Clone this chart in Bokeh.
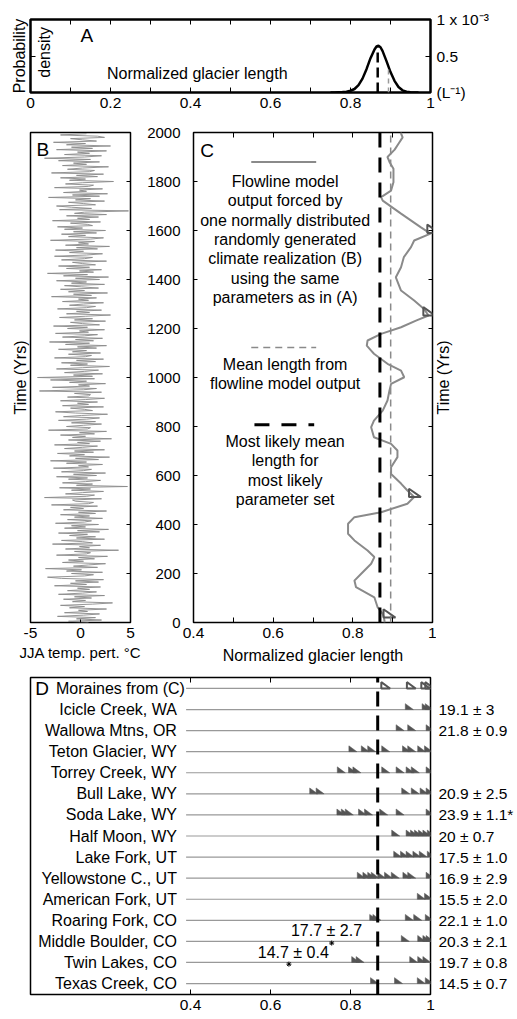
import math
import numpy as np
from bokeh.plotting import figure
from bokeh.layouts import column, row
from bokeh.models import Range1d, FixedTicker, LinearAxis
from bokeh.core.properties import value
from bokeh.embed import file_html
from bokeh.resources import INLINE

FONT = "Liberation Sans"

# ---------------- Panel A data ----------------
pdf_length = [0.75, 0.76, 0.77, 0.78, 0.79, 0.80, 0.81, 0.82, 0.83, 0.84, 0.85, 0.86, 0.865,
              0.87, 0.875, 0.88, 0.89, 0.90, 0.91, 0.92, 0.93, 0.94, 0.95, 0.96, 0.97]
pdf_density = [0.0, 0.0, 0.003, 0.006, 0.012, 0.024, 0.048, 0.10, 0.19, 0.32, 0.47, 0.59, 0.63,
               0.64, 0.62, 0.57, 0.43, 0.28, 0.16, 0.075, 0.03, 0.011, 0.004, 0.001, 0.0]
most_likely_length = 0.868
mean_model_length = 0.895

a_ticks = [0, 0.2, 0.4, 0.6, 0.8, 1]
a_tick_labels = ["0", "0.2", "0.4", "0.6", "0.8", "1"]
a_minor_ticks = [0.1, 0.3, 0.5, 0.7, 0.9]
a_right_ticks = [0, 0.5, 1]
a_right_labels = ["(L\u207b\u00b9)", "0.5", "1  x 10\u207b\u00b3"]

# ---------------- Panel B data (JJA temperature perturbation, 5-yr steps) ----------------
temp_pert = [
    0.8, -1.2, 2.1, -0.4, 1.5, -2.3, 0.3, 1.9, -1.6, 0.7, -0.2, 2.6, -1.1, 0.4, -2.0, 1.2, 3.2, -0.8, 0.5, -1.7,
    1.1, -0.6, 2.4, -2.2, 0.2, 1.6, -1.3, 0.9, -0.3, 2.0, -2.6, 0.6, -1.0, 1.8, -0.5, 2.3, -1.9, -3.3, 0.4, 1.3,
    -0.9, 2.2, -1.4, 0.1, -3.5, 1.7, -0.7, 0.8, 2.5, -1.8, 0.3, -1.2, 1.4, -0.2, 2.7, -2.4, 0.6, 1.0, -0.6, 3.8,
    -1.5, 0.9, -0.1, 2.0, -2.8, 1.2, 0.2, -1.9, 2.4, -0.4, 1.5, -1.1, 0.7, -2.2, 1.9, -0.3, 2.8, -1.6, 0.5, -0.9,
    1.8, -2.5, 0.4, 1.1, -1.3, 2.2, -0.6, 0.9, -2.0, 1.5, -0.2, 2.6, -1.7, 0.3, -1.0, 1.7, -2.9, 0.8, 1.3, -0.5,
    -0.8, 2.1, -3.6, 0.6, 1.4, -1.5, 0.2, 2.3, -0.9, 1.0, -2.1, 4.7, -0.4, 1.2, -1.8, 0.5, 2.0, -1.2, 0.7, -2.4,
    1.6, -0.7, 2.5, -1.9, 0.3, 1.1, -2.7, 0.8, -0.2, 2.2, -1.4, 0.6, -3.0, 1.8, -0.5, 2.9, -1.1, 0.4, -2.3, 1.3,
    -0.6, 2.4, -1.6, 0.2, 1.7, -2.6, 0.9, -0.3, 2.0, -1.2, 3.1, -0.8, 0.5, -2.0, 1.4, -0.1, 2.6, -3.2, 0.7, 1.0,
    -1.4, 0.3, 2.1, -0.9, 1.5, -2.2, 0.6, 1.9, -1.7, 0.1, 2.7, -0.5, -2.5, 1.2, 0.4, -1.0, 2.3, -1.8, 0.8, -0.3,
    1.7, -2.0, 0.5, 2.4, -1.3, 0.8, 1.0, -0.6, 2.1, -4.1, 0.3, 1.6, -2.8, 0.9, -0.2, 2.5, -1.1, 0.6, -3.0, 1.4,
    -4.3, 1.2, -0.7, 2.2, -1.6, 0.4, 1.8, -2.4, 0.2, 2.9, -1.0, 0.7, -1.9, 1.5, -0.4, 2.3, -2.6, 0.5, 1.1, -1.2,
    2.0, -0.8, 0.6, -2.2, 1.6, -0.3, 2.6, -1.5, 0.9, -3.1, 1.3, -0.5, 2.2, -1.8, 0.4, 1.7, -2.5, 0.8, -0.1, 2.4,
    -1.3, 0.7, -2.7, 1.9, 0.2, -1.0, 2.5, -0.6, 1.2, -2.1, 0.5, 3.0, -1.4, 0.9, -0.4, 2.1, -2.3, 0.6, 1.5, -1.1,
    0.3, 2.3, -1.8, 0.8, -0.2, 1.6, -2.9, 1.1, -0.7, 2.7, -1.2, 0.4, -2.0, 1.8, 0.1, -1.6, 2.4, -0.9, 0.6, -2.4,
    1.9, -0.5, 2.8, -1.7, 0.7, -3.3, 1.3, -0.1, 2.1, -1.4, 0.9, -2.2, 1.5, 0.2, -0.8, 2.6, -1.9, 0.4, 1.2, -2.6,
    0.6, 2.2, -1.1, 0.3, -2.5, 1.7, -0.4, 2.9, -1.5, 0.8, -0.2, 1.4, -3.0, 1.0, 2.3, -1.2, 0.5, -1.9, 1.6, -0.7,
    2.5, -1.6, 0.2, -2.3, 1.2, 0.7, -1.0, 2.0, -2.8, 0.9, -0.3, 1.8, -1.4, 2.6, -0.6, 0.4, 4.8, -2.1, 1.1, -0.9,
    -2.4, 1.5, 0.3, -1.2, 2.4, -0.5, 1.0, -3.2, 1.9, -0.8, 2.7, -1.7, 0.6, -0.1, 2.2, -2.6, 0.8, 1.3, -1.5, 0.2,
    3.3, -1.1, 0.5, -2.0, 1.7, -0.4, 2.3, -2.9, 0.9, 1.4, -1.3, 0.2, 2.8, -1.8, 0.6, -0.7, 1.9, -2.2, 1.0, -3.6,
    0.4, 2.1, -1.6, 0.9, -0.3, 2.6, -2.4, 1.2, -0.9, 3.0, -1.4, 0.5, -2.7, 1.6, 0.2, -1.0, 2.4, 1.7, -2.0, 0.6,
]
years_b = np.arange(len(temp_pert)) * 5
b_ticks = [-5, 0, 5]
b_tick_labels = ["-5", "0", "5"]
time_ticks = [0, 200, 400, 600, 800, 1000, 1200, 1400, 1600, 1800, 2000]

# ---------------- Panel C data (flowline model output) ----------------
flow_years = [0, 22, 35, 63, 103, 144, 171, 199, 240, 267, 294, 335, 362, 403, 430,
              450, 485, 512, 539, 567, 606, 634, 675, 702, 729, 756, 797, 824, 865, 906,
              947, 974, 1001, 1028, 1056, 1097, 1110, 1130, 1151, 1178, 1205, 1233, 1253, 1281, 1314,
              1355, 1409, 1450, 1491, 1532, 1559, 1587, 1613, 1669, 1722, 1736, 1763, 1797, 1852, 1880,
              1900, 1930, 1955, 1980, 2000]
flow_length = [0.88, 0.878, 0.875, 0.862, 0.854, 0.808, 0.804, 0.821, 0.846, 0.854, 0.837, 0.804, 0.788, 0.788, 0.804,
               0.871, 0.937, 0.954, 0.937, 0.921, 0.896, 0.896, 0.912, 0.912, 0.896, 0.853, 0.846, 0.853, 0.875, 0.887,
               0.892, 0.896, 0.929, 0.921, 0.887, 0.853, 0.846, 0.835, 0.837, 0.871, 0.921, 0.96, 0.99, 0.978, 0.954,
               0.921, 0.908, 0.921, 0.928, 0.946, 0.954, 0.995, 0.971, 0.921, 0.875, 0.871, 0.896, 0.902, 0.902, 0.892,
               0.887, 0.905, 0.915, 0.925, 0.92]
moraine_c_length = [0.877, 0.941, 0.977, 0.987]
moraine_c_years = [20, 512, 1253, 1590]
c_ticks = [0.4, 0.6, 0.8, 1]
c_tick_labels = ["0.4", "0.6", "0.8", "1"]
c_minor_ticks = [0.5, 0.7, 0.9]

legend_lines = ["Flowline model", "output forced by", "one normally distributed",
                "randomly generated", "climate realization (B)", "using the same",
                "parameters as in (A)"]
legend_mean = ["Mean length from", "flowline model output"]
legend_ml = ["Most likely mean", "length for", "most likely", "parameter set"]

# ---------------- Panel D data ----------------
sites = ["Moraines from (C)", "Icicle Creek, WA", "Wallowa Mtns, OR", "Teton Glacier, WY",
         "Torrey Creek, WY", "Bull Lake, WY", "Soda Lake, WY", "Half Moon, WY", "Lake Fork, UT",
         "Yellowstone C., UT", "American Fork, UT", "Roaring Fork, CO", "Middle Boulder, CO",
         "Twin Lakes, CO", "Texas Creek, CO"]
ages = ["", "19.1 \u00b1 3", "21.8 \u00b1 0.9", "", "", "20.9 \u00b1 2.5", "23.9 \u00b1 1.1*",
        "20 \u00b1 0.7", "17.5 \u00b1 1.0", "16.9 \u00b1 2.9", "15.5 \u00b1 2.0", "22.1 \u00b1 1.0",
        "20.3 \u00b1 2.1", "19.7 \u00b1 0.8", "14.5 \u00b1 0.7"]
site_moraines = [
    moraine_c_length,
    [0.937, 0.979, 0.987],
    [0.914, 0.943, 0.989],
    [0.796, 0.827, 0.843, 0.878, 0.930, 0.943, 0.968, 0.985],
    [0.767, 0.795, 0.806, 0.878, 0.914, 0.939, 0.952, 0.989],
    [0.698, 0.714, 0.928, 0.952, 0.974, 0.989],
    [0.766, 0.777, 0.787, 0.820, 0.835, 0.873, 0.914, 0.989],
    [0.903, 0.939, 0.950, 0.960, 0.970, 0.981, 0.992],
    [0.908, 0.925, 0.939, 0.956, 0.972, 0.992],
    [0.817, 0.831, 0.843, 0.852, 0.868, 0.885, 0.902, 0.931, 0.943, 0.989],
    [0.967, 0.985],
    [0.848, 0.856, 0.937, 0.958, 0.987],
    [0.927, 0.968, 0.981, 0.989],
    [0.803, 0.814, 0.948, 0.968, 0.981],
    [0.850, 0.910, 0.967, 0.987],
]
star_site = ["Middle Boulder, CO", "Twin Lakes, CO"]
star_length = [0.753, 0.646]
star_labels = ["17.7 \u00b1 2.7", "14.7 \u00b1 0.4"]
star_label_length = [0.74, 0.657]
d_ticks = [0.4, 0.6, 0.8, 1]
d_tick_labels = ["0.4", "0.6", "0.8", "1"]

# ---------------- helpers ----------------
TXT = "16px"
TICK = "15.5px"


def style_fig(p, w=1.5):
    p.outline_line_color = "black"
    p.outline_line_width = w
    p.xgrid.visible = False
    p.ygrid.visible = False
    p.background_fill_color = "white"
    p.border_fill_color = "white"


def style_axis(ax, ticks, labels=None, minor=None, tick_len=5, size=TICK, standoff=6):
    if labels is None:
        # ticks only: use minor ticks so that no tick labels exist at all
        ax.ticker = FixedTicker(ticks=[], minor_ticks=list(ticks) + list(minor or []))
    else:
        ax.ticker = FixedTicker(ticks=list(ticks), minor_ticks=list(minor or []))
        ax.major_label_overrides = {t: l for t, l in zip(ticks, labels)}
        ax.major_label_text_font_size = size
        ax.major_label_standoff = standoff
    ax.axis_line_color = None
    ax.major_tick_in = tick_len
    ax.major_tick_out = 0
    ax.minor_tick_in = tick_len
    ax.minor_tick_out = 0
    ax.major_tick_line_color = "black"
    ax.minor_tick_line_color = "black"
    ax.major_label_text_font = FONT
    ax.major_label_text_color = "black"
    ax.axis_label_text_font = FONT
    ax.axis_label_text_font_style = "normal"
    ax.axis_label_text_color = "black"
    ax.axis_label_text_font_size = TXT


def txt(p, x, y, t, size=TXT, align="center", baseline="middle", angle=0.0):
    p.text(x=list(x), y=list(y), text=list(t), text_font=value(FONT), text_font_size=value(size),
           text_align=align, text_baseline=baseline, angle=angle, text_color="black")


def triangles(xs, ys, w, h):
    return [[x, x, x + w] for x in xs], [[y, y + h, y] for y in ys]


# ---------------- Panel A ----------------
pA = figure(width=517, height=120, x_range=Range1d(0, 1), y_range=Range1d(0, 1),
            output_backend="svg", toolbar_location=None,
            min_border_left=30, min_border_right=87, min_border_top=19, min_border_bottom=28)
style_fig(pA, 2.5)
style_axis(pA.xaxis[0], a_ticks, a_tick_labels, a_minor_ticks, standoff=5)
style_axis(pA.yaxis[0], [0.5])
pA.yaxis[0].axis_label = "Probability"
pA.yaxis[0].axis_label_standoff = 3
topA = LinearAxis()
style_axis(topA, a_ticks, None, a_minor_ticks)
pA.add_layout(topA, "above")
rightA = LinearAxis()
style_axis(rightA, a_right_ticks, a_right_labels, standoff=6)
pA.add_layout(rightA, "right")

pA.line(pdf_length, pdf_density, color="black", line_width=2.5)
h_ml = float(np.interp(most_likely_length, pdf_length, pdf_density))
h_mean = float(np.interp(mean_model_length, pdf_length, pdf_density))
pA.segment(x0=[mean_model_length], y0=[0], x1=[mean_model_length], y1=[h_mean],
           color="#9a9a9a", line_width=1.5, line_dash="5 4")
pA.segment(x0=[most_likely_length], y0=[0], x1=[most_likely_length], y1=[h_ml],
           color="black", line_width=2.5, line_dash="10 5")
txt(pA, [0.125], [0.78], ["A"], size="19px", align="left")
txt(pA, [0.417], [0.26], ["Normalized glacier length"])
txt(pA, [0.036], [0.55], ["density"], angle=math.pi / 2)

# ---------------- Panel B ----------------
pB = figure(width=144, height=548, x_range=Range1d(-5, 5), y_range=Range1d(0, 2000),
            output_backend="svg", toolbar_location=None,
            min_border_left=30, min_border_right=14, min_border_top=12, min_border_bottom=46)
style_fig(pB)
style_axis(pB.xaxis[0], b_ticks, b_tick_labels, standoff=5, tick_len=3)
pB.xaxis[0].axis_label = "JJA temp. pert. \u00b0C"
pB.xaxis[0].axis_label_text_font_size = "15px"
pB.xaxis[0].axis_label_standoff = 3
style_axis(pB.yaxis[0], [])
pB.yaxis[0].axis_label = "Time (Yrs)"
pB.yaxis[0].axis_label_standoff = 2
rightB = LinearAxis()
style_axis(rightB, time_ticks, None, tick_len=4)
pB.add_layout(rightB, "right")
pB.line(temp_pert, years_b, color="#8a8a8a", line_width=0.9)
txt(pB, [-4.4], [1930], ["B"], size="19px", align="left")

# ---------------- Panel C ----------------
pC = figure(width=292, height=548, x_range=Range1d(0.4, 1), y_range=Range1d(0, 2000),
            output_backend="svg", toolbar_location=None,
            min_border_left=48, min_border_right=4, min_border_top=12, min_border_bottom=46)
style_fig(pC)
style_axis(pC.xaxis[0], c_ticks, c_tick_labels, c_minor_ticks, standoff=5)
pC.xaxis[0].axis_label = "Normalized glacier length"
pC.xaxis[0].axis_label_standoff = 6
style_axis(pC.yaxis[0], time_ticks, [str(t) for t in time_ticks], size="15px", standoff=13, tick_len=4)
topC = LinearAxis()
style_axis(topC, c_ticks, None, c_minor_ticks)
pC.add_layout(topC, "above")
rightC = LinearAxis()
style_axis(rightC, time_ticks, None, tick_len=4)
pC.add_layout(rightC, "right")

pC.line(flow_length, flow_years, color="#8a8a8a", line_width=2)
tx, ty = triangles(moraine_c_length, moraine_c_years, 0.03, 34)
pC.patches(tx, ty, fill_color=None, line_color="#555555", line_width=2)
pC.segment(x0=[mean_model_length], y0=[0], x1=[mean_model_length], y1=[2000],
           color="#8a8a8a", line_width=1.5, line_dash="7 5")
pC.segment(x0=[most_likely_length], y0=[0], x1=[most_likely_length], y1=[2000],
           color="black", line_width=3, line_dash="15 10")

# legend inside C
pC.line([0.545, 0.708], [1880, 1880], color="#8a8a8a", line_width=2)
txt(pC, [0.63] * len(legend_lines), [1800, 1722, 1641, 1563, 1484, 1405, 1325], legend_lines)
pC.line([0.545, 0.708], [1122, 1122], color="#8a8a8a", line_width=1.5, line_dash="7 5")
txt(pC, [0.63] * len(legend_mean), [1055, 976], legend_mean)
pC.line([0.553, 0.703], [807, 807], color="black", line_width=3, line_dash="15 12")
txt(pC, [0.63] * len(legend_ml), [737, 660, 581, 501], legend_ml)
txt(pC, [0.417], [1925], ["C"], size="19px", align="left")

# right-hand "Time (Yrs)" label of C (reads bottom to top)
pR = figure(width=22, height=548, x_range=Range1d(0, 1), y_range=Range1d(0, 2000),
            output_backend="svg", toolbar_location=None, x_axis_location=None, y_axis_location=None,
            min_border_left=0, min_border_right=0, min_border_top=12, min_border_bottom=46)
pR.outline_line_color = None
pR.xgrid.visible = False
pR.ygrid.visible = False
txt(pR, [0.32], [1000], ["Time (Yrs)"], angle=math.pi / 2)

# ---------------- Panel D ----------------
n = len(sites)
row_y = [n - 1 - i for i in range(n)]
pD = figure(width=517, height=351, x_range=Range1d(0, 1), y_range=Range1d(-0.52, n - 1 + 0.52),
            output_backend="svg", toolbar_location=None, y_axis_location="right",
            min_border_left=30, min_border_right=85, min_border_top=9, min_border_bottom=25)
style_fig(pD)
style_axis(pD.xaxis[0], d_ticks, d_tick_labels, standoff=5)
style_axis(pD.yaxis[0], row_y, ages, tick_len=0, size="15.5px", standoff=8)
topD = LinearAxis()
style_axis(topD, d_ticks[:-1], None)
pD.add_layout(topD, "above")

pD.segment(x0=[0.389] * n, y0=row_y, x1=[1.0] * n, y1=row_y, color="#999999", line_width=1.2)
txt(pD, [0.386], row_y[:1], sites[:1], align="right")
txt(pD, [0.366] * (n - 1), row_y[1:], sites[1:], align="right")
txt(pD, [0.012], row_y[:1], ["D"], size="19px", align="left")

# open triangles for moraines from (C)
tx, ty = triangles(site_moraines[0], [row_y[0]] * len(site_moraines[0]), 0.022, 0.3)
pD.patches(tx, ty, fill_color=None, line_color="#555555", line_width=2)
# filled triangles for dated moraines
fx, fy = [], []
for yv, ms in zip(row_y[1:], site_moraines[1:]):
    a, b = triangles(ms, [yv] * len(ms), 0.02, 0.28)
    fx += a
    fy += b
pD.patches(fx, fy, fill_color="#555555", line_color="#555555", line_width=0.5)

pD.segment(x0=[most_likely_length], y0=[-0.52], x1=[most_likely_length], y1=[n - 1 + 0.52],
           color="black", line_width=3, line_dash="15 9")

star_y = [row_y[sites.index(s)] for s in star_site]
pD.scatter(star_length, [y - 0.08 for y in star_y], marker="asterisk", size=5, color="black",
           line_width=1)
txt(pD, star_label_length, [star_y[0] + 0.5, star_y[1] + 0.47], star_labels)

layout = column(pA, row(pB, pC, pR, spacing=0), pD, spacing=0)
open("out.html", "w").write(file_html(layout, INLINE))
